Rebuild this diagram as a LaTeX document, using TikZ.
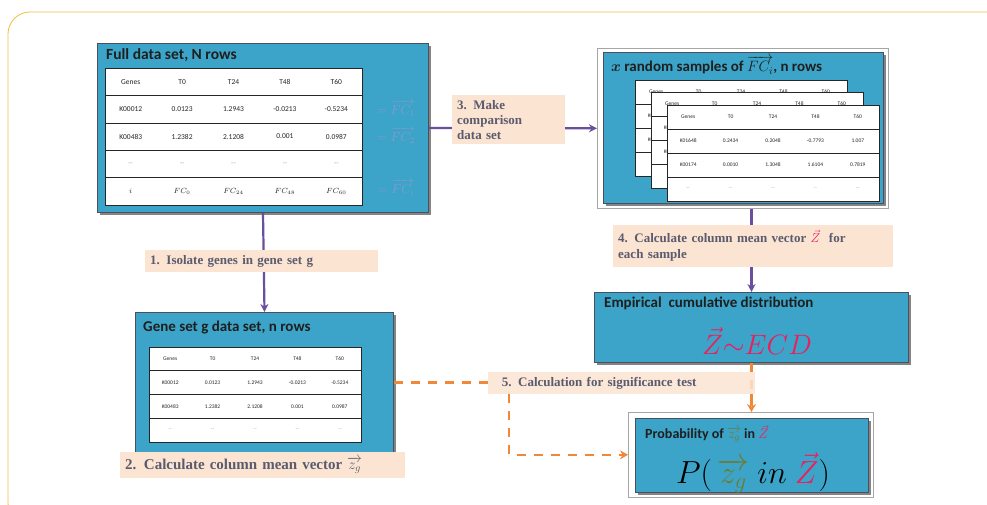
\documentclass[tikz,border=0pt]{standalone}
\usepackage{fix-cm}
\usepackage{amsmath}
\usepackage{fontspec}
\setmainfont{Liberation Serif}
\newfontfamily\carlito{Carlito}
\usetikzlibrary{arrows.meta,positioning,calc,shadows}
\definecolor{boxblue}{HTML}{3BA4C8}
\definecolor{boxedge}{HTML}{4A5060}
\definecolor{peach}{HTML}{FCE4D2}
\definecolor{labeltext}{HTML}{5A5B6E}
\definecolor{flowpurple}{HTML}{6B4E9E}
\definecolor{dashorange}{HTML}{F0883A}
\definecolor{pinkz}{HTML}{EC1F5C}
\definecolor{olivez}{HTML}{6E7B2F}
\definecolor{framegold}{HTML}{F5BE3C}
\definecolor{sidefaint}{HTML}{8A98D2}
\newcommand{\dd}{\textcolor{black!35}{--}}
% table drawn cell by cell: name, top-left, width, row height, rows, font size, cells
\newcommand{\gtab}[7]{%
  \begin{scope}[shift={#2}]
    \node[tabframe, minimum width=#3pt, minimum height={#4*#5*1pt}] (#1) at (0,0) {};
    \foreach \k in {2,...,#5} \draw[tabrule] (0,{(\k-1)*#4}) -- (#3,{(\k-1)*#4});
    \foreach \row [count=\r] in {#7} {
      \foreach \cell [count=\c] in \row
        \node[cell, font=\carlito\fontsize{#6}{#6}\selectfont] (#1-\r-\c) at ({(\c-0.5)*#3/5},{(\r-0.5)*#4}) {\cell};
    }
  \end{scope}}
\tikzset{
    panel/.style={draw=boxedge, fill=boxblue, line width=1pt, anchor=north west, inner sep=0pt,
      drop shadow={shadow xshift=2.5pt, shadow yshift=-2.5pt, fill=black!60, opacity=0.8}},
    photoframe/.style={draw=black!35, fill=white, line width=0.6pt, anchor=north west, inner sep=0pt},
    tabframe/.style={draw=black!85, fill=white, line width=0.7pt, anchor=north west, inner sep=0pt},
    tabrule/.style={black!85, line width=0.6pt},
    cell/.style={inner sep=0pt, text=black!85},
    steplabel/.style={fill=peach, text=labeltext, font=\bfseries\fontsize{13}{16}\selectfont, align=left, inner sep=5pt, anchor=north west},
    ptitle/.style={font=\carlito\bfseries\fontsize{15}{17}\selectfont, text=black!88, anchor=north west, inner sep=0pt},
    flow/.style={-{Stealth[length=8pt,width=8pt]}, line width=2.2pt, flowpurple},
    sigflow/.style={line width=2.6pt, dashorange, dash pattern=on 9pt off 8pt},
    sidelbl/.style={text=sidefaint, font=\fontsize{13}{13}\selectfont, inner sep=0pt}
}
\begin{document}
\begin{tikzpicture}[x=1pt, y=-1pt]
  \useasboundingbox (0,0) rectangle (987,504);
  \fill[white] (0,0) rectangle (987,504);
  \draw[framegold, line width=0.8pt, rounded corners=22pt] (8,12) rectangle (1010,525);

  % Full data set
  \node[panel, minimum width=331pt, minimum height=169pt] (full) at (97,43) {};
  \node[ptitle, font=\carlito\bfseries\fontsize{15.5}{17}\selectfont] (fulltitle) at (106,48) {Full data set, N rows};
  \gtab{fulltab}{(105,68)}{257}{27.4}{5}{7.5}{{Genes,T0,T24,T48,T60},{K00012,0.0123,1.2943,-0.0213,-0.5234},{K00483,1.2382,2.1208,0.001,0.0987},{\dd,\dd,\dd,\dd,\dd},{$i$,$FC_0$,$FC_{24}$,$FC_{48}$,$FC_{60}$}}
  \node[sidelbl] (fc1) at (396,109) {$=\overrightarrow{FC_1}$};
  \node[sidelbl] (fc2) at (396,136) {$=\overrightarrow{FC_2}$};
  \node[sidelbl] (fci) at (396,188) {$=\overrightarrow{FC_i}$};

  % Random samples
  \node[photoframe, minimum width=291pt, minimum height=160pt] (randframe) at (597,48) {};
  \node[panel, minimum width=280pt, minimum height=151pt] (rand) at (603,52) {};
  \node[ptitle] (randtitle) at (611,56) {{\fontspec{Liberation Serif}\boldmath$x$} random samples of $\overrightarrow{FC_i}$, n rows};
  \gtab{randtabA}{(635,80)}{212}{24}{4}{5.5}{{Genes,T0,T24,T48,T60},{K01648,0.2434,0.2048,-0.7793,1.007},{K00174,0.0010,1.3048,1.6104,0.7819},{\dd,\dd,\dd,\dd,\dd}}
  \gtab{randtabB}{(651,92)}{212}{24}{4}{5.5}{{Genes,T0,T24,T48,T60},{K01648,0.2434,0.2048,-0.7793,1.007},{K00174,0.0010,1.3048,1.6104,0.7819},{\dd,\dd,\dd,\dd,\dd}}
  \gtab{randtabC}{(667,105)}{212}{24}{4}{5.5}{{Genes,T0,T24,T48,T60},{K01648,0.2434,0.2048,-0.7793,1.007},{K00174,0.0010,1.3048,1.6104,0.7819},{\dd,\dd,\dd,\dd,\dd}}

  % Gene set g
  \node[panel, minimum width=258pt, minimum height=140pt] (gene) at (135,312) {};
  \node[ptitle] (genetitle) at (143,321) {Gene set g data set, n rows};
  \gtab{genetab}{(149,347)}{212}{23.7}{4}{5.5}{{Genes,T0,T24,T48,T60},{K00012,0.0123,1.2943,-0.0213,-0.5234},{K00483,1.2382,2.1208,0.001,0.0987},{\dd,\dd,\dd,\dd,\dd}}

  % ECD
  \node[panel, minimum width=314pt, minimum height=70pt] (ecd) at (594,292) {};
  \node[ptitle] (ecdtitle) at (604,297) {Empirical\ \ cumulative distribution};
  \node[text=pinkz, font=\fontsize{28}{30}\selectfont, inner sep=0pt] (ecdform) at (757,341) {$\vec{Z}{\sim}ECD$};

  % Probability
  \node[photoframe, minimum width=245pt, minimum height=85pt] (probframe) at (628,412) {};
  \node[panel, minimum width=233pt, minimum height=74pt] (prob) at (635,418) {};
  \node[ptitle, font=\carlito\bfseries\fontsize{14}{16}\selectfont] (probtitle) at (645,425) {Probability of {\color{olivez}$\overrightarrow{z_g}$} in {\color{pinkz}$\vec{Z}$}};
  \node[font=\fontsize{32}{34}\selectfont, inner sep=0pt] (probform) at (753,473) {$P(\,{\color{olivez}\overrightarrow{z_g}}\ in\ {\color{pinkz}\vec{Z}})$};

  % Connectors
  \draw[flow] (full.east) -- (randframe.west);
  \draw[flow] (full.south) -- (gene.north);
  \draw[flow] (ecd.north |- randframe.south) -- (ecd.north);
  \draw[sigflow] (ecd.south) -- (ecd.south |- probframe.north);
  \draw[sigflow] (gene.east) -- ++(95,0) coordinate (dashend);

  % Step labels
  \node[steplabel, text width=223pt] (lbl1) at (145,250) {1. Isolate genes in gene set g};
  \node[steplabel, text width=275pt, font=\bfseries\fontsize{15}{17}\selectfont] (lbl2) at (120,452) {2. Calculate\ column\ mean\ vector $\overrightarrow{z_g}$};
  \node[steplabel, text width=103pt, font=\bfseries\fontsize{13}{15}\selectfont] (lbl3) at (452,95) {3. Make\\comparison\\data set};
  \node[steplabel, text width=270pt] (lbl4) at (613,225) {4. Calculate column mean vector {\color{pinkz}$\vec{Z}$}\ \ for\\each sample};
  \node[steplabel, text width=257pt, fill opacity=0.85, text opacity=1] (lbl5) at (488,372) {\ \ 5. Calculation for significance test};

  \draw[sigflow, -{Stealth[length=8pt,width=9pt]}] ([xshift=21pt]lbl5.south west) |- (probframe.west);
  \draw[sigflow, -{Stealth[length=8pt,width=9pt]}] (ecd.south |- lbl5.south) -- (ecd.south |- probframe.north);
\end{tikzpicture}
\end{document}
